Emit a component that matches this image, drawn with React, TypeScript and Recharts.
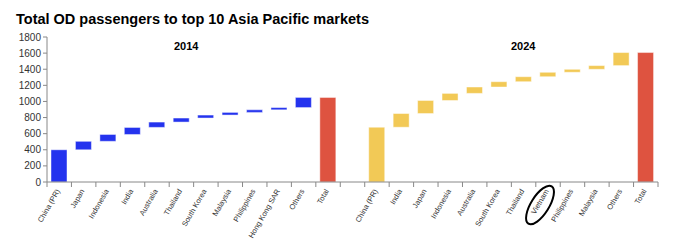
import React from "react";
import { BarChart, Bar, XAxis, YAxis, Cell } from "recharts";

// growth per market, stacked cumulatively (waterfall)
const markets2014 = [
  "China (PR)",
  "Japan",
  "Indonesia",
  "India",
  "Australia",
  "Thailand",
  "South Korea",
  "Malaysia",
  "Philippines",
  "Hong Kong SAR",
  "Others",
];
const passengers2014 = [400, 105, 85, 88, 66, 50, 37, 33, 32, 28, 126];

const markets2024 = [
  "China (PR)",
  "India",
  "Japan",
  "Indonesia",
  "Australia",
  "South Korea",
  "Thailand",
  "Vietnam",
  "Philippines",
  "Malaysia",
  "Others",
];
const passengers2024 = [680, 170, 162, 88, 79, 66, 62, 55, 37, 46, 162];

const yTicks = [0, 200, 400, 600, 800, 1000, 1200, 1400, 1600, 1800];

const BLUE = "#2433ee";
const YELLOW = "#f2c956";
const RED = "#de5340";

const W = 680;
const H = 248;
const LEFT = 47;
const RIGHT = 22;

type Row = { id: string; label: string; base: number; value: number; color: string };

function buildRows(year: string, markets: string[], values: number[], color: string): Row[] {
  let running = 0;
  const rows: Row[] = markets.map((m, i) => {
    const r = { id: `${year}-${m}`, label: m, base: running, value: values[i], color };
    running += values[i];
    return r;
  });
  rows.push({ id: `${year}-Total`, label: "Total", base: 0, value: running, color: RED });
  return rows;
}

const data: Row[] = [
  ...buildRows("2014", markets2014, passengers2014, BLUE),
  { id: "gap", label: "", base: 0, value: 0, color: "none" },
  ...buildRows("2024", markets2024, passengers2024, YELLOW),
];

const band = (W - LEFT - RIGHT) / data.length;

const MarketTick = (props: any) => {
  const { x, y, index } = props;
  const row = data[index];
  const isLast = index === data.length - 1;
  return (
    <g transform={`translate(${x},${y})`}>
      <line x1={-band / 2} y1={0} x2={-band / 2} y2={5} stroke="#888" />
      {isLast && <line x1={band / 2} y1={0} x2={band / 2} y2={5} stroke="#888" />}
      {row && row.label && (
        <text
          x={1}
          y={9}
          textAnchor="end"
          fontSize={7.5}
          fill="#333"
          transform="rotate(-60 1 9)"
        >
          {row.label}
        </text>
      )}
      {row && row.label === "Vietnam" && (
        // hand-drawn style circle around Vietnam in the source
        <ellipse
          cx={-8}
          cy={23}
          rx={22}
          ry={9}
          fill="none"
          stroke="#000"
          strokeWidth={2}
          transform="rotate(-58 -8 23)"
        />
      )}
    </g>
  );
};

export default function App() {
  return (
    <div
      style={{
        position: "absolute",
        left: 0,
        top: 0,
        width: W,
        height: H,
        background: "#fff",
        fontFamily: "'Liberation Sans', Arial, sans-serif",
      }}
    >
      <div
        style={{
          position: "absolute",
          left: 16,
          top: 11,
          fontSize: 14.5,
          fontWeight: "bold",
          color: "#000",
        }}
      >
        Total OD passengers to top 10 Asia Pacific markets
      </div>
      <div style={{ position: "absolute", left: 174, top: 40, fontSize: 11, fontWeight: "bold" }}>
        2014
      </div>
      <div style={{ position: "absolute", left: 511, top: 40, fontSize: 11, fontWeight: "bold" }}>
        2024
      </div>
      <BarChart
        width={W}
        height={H}
        data={data}
        margin={{ top: 37, right: RIGHT, bottom: 0, left: 0 }}
        barSize={16}
        style={{ position: "absolute", left: 0, top: 0 }}
      >
        <XAxis
          dataKey="id"
          height={66}
          interval={0}
          tickSize={0}
          tickMargin={0}
          tick={<MarketTick />}
          axisLine={{ stroke: "#888" }}
          tickLine={false}
        />
        <YAxis
          width={LEFT}
          domain={[0, 1800]}
          ticks={yTicks}
          tickSize={4}
          tick={{ fontSize: 10, fill: "#333" }}
          axisLine={{ stroke: "#888" }}
          tickLine={{ stroke: "#888" }}
        />
        <Bar dataKey="base" stackId="w" fill="transparent" isAnimationActive={false} />
        <Bar
          dataKey="value"
          stackId="w"
          isAnimationActive={false}
          stroke="rgba(255,255,255,0.45)"
          strokeWidth={1}
        >
          {data.map((d) => (
            <Cell key={d.id} fill={d.color} />
          ))}
        </Bar>
      </BarChart>
    </div>
  );
}
